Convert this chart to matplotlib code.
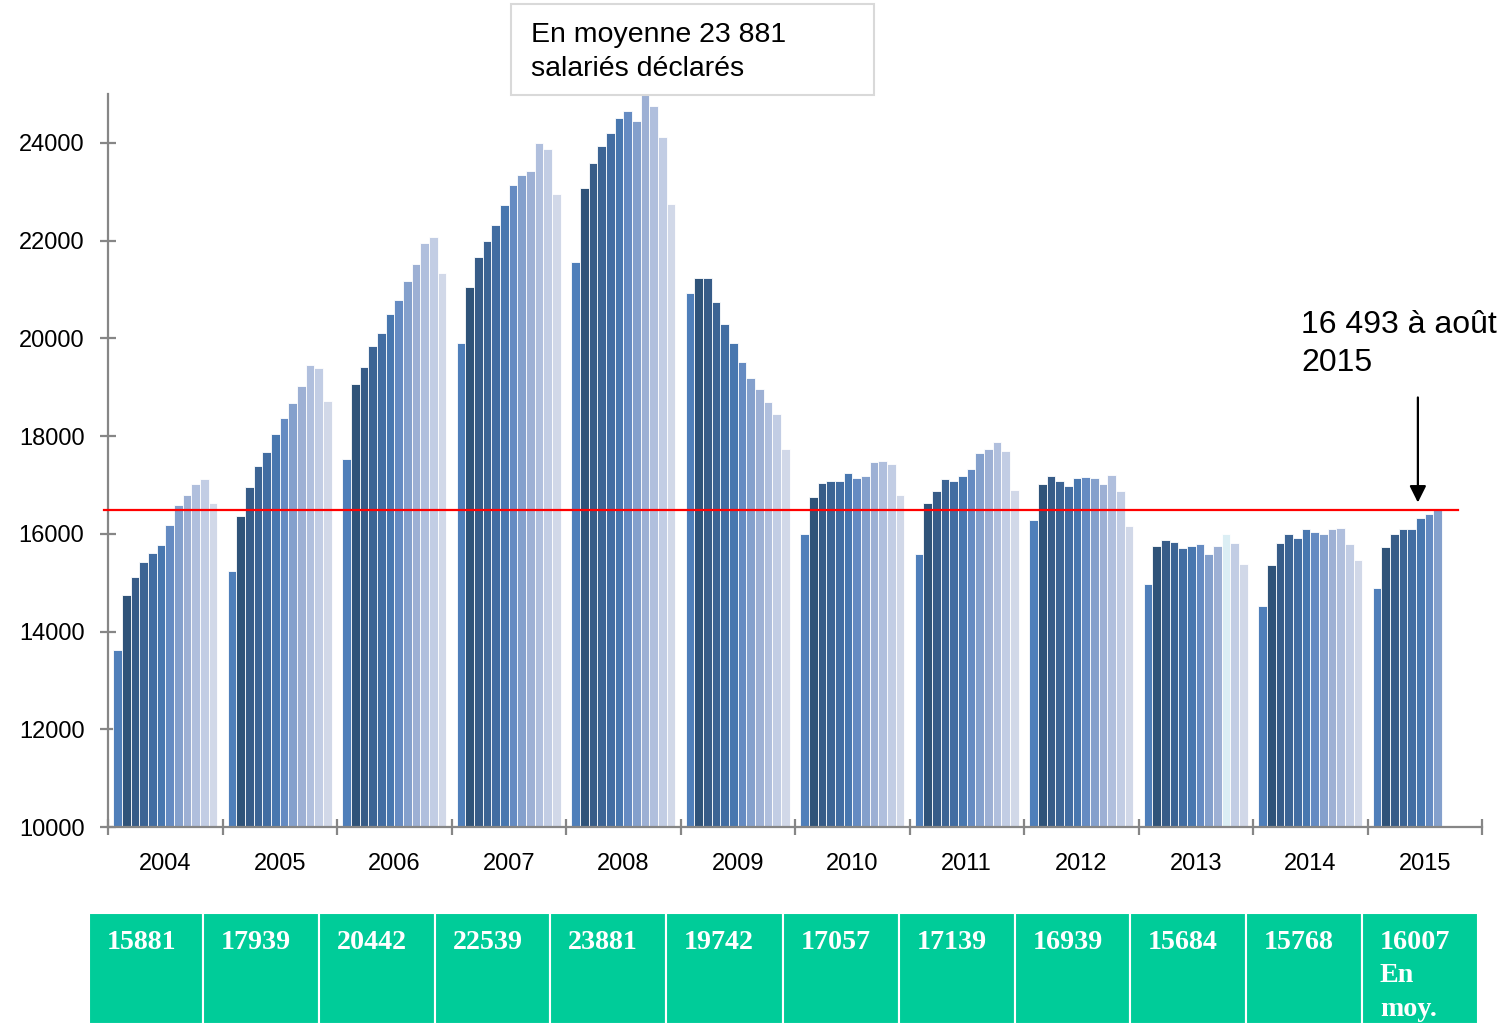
import matplotlib
matplotlib.use("Agg")
import matplotlib.pyplot as plt
from matplotlib.patches import Rectangle

plt.rcParams['font.family'] = ['Liberation Sans', 'DejaVu Sans']

years = ["2004", "2005", "2006", "2007", "2008", "2009",
         "2010", "2011", "2012", "2013", "2014", "2015"]

v2004 = [13630, 14750, 15110, 15420, 15600, 15780, 16180, 16580, 16790, 17010, 17120, 16630]
v2005 = [15240, 16360, 16960, 17380, 17670, 18050, 18360, 18680, 19030, 19450, 19390, 18720]
v2006 = [17540, 19060, 19410, 19840, 20100, 20490, 20790, 21170, 21520, 21960, 22080, 21340]
v2007 = [19910, 21060, 21660, 21990, 22320, 22720, 23130, 23340, 23430, 24000, 23880, 22960]
v2008 = [21560, 23070, 23590, 23940, 24200, 24500, 24650, 24450, 24970, 24760, 24110, 22750]
v2009 = [20930, 21240, 21240, 20740, 20290, 19910, 19510, 19190, 18960, 18700, 18450, 17730]
v2010 = [15990, 16750, 17030, 17090, 17080, 17250, 17140, 17190, 17470, 17500, 17420, 16790]
v2011 = [15580, 16630, 16880, 17120, 17080, 17180, 17320, 17660, 17740, 17870, 17700, 16900]
v2012 = [16280, 17010, 17180, 17080, 16970, 17150, 17160, 17140, 17010, 17200, 16880, 16160]
v2013 = [14980, 15750, 15880, 15830, 15700, 15750, 15790, 15580, 15750, 16000, 15810, 15380]
v2014 = [14520, 15360, 15820, 16000, 15910, 16100, 16040, 15990, 16100, 16120, 15790, 15470]
v2015 = [14900, 15740, 16000, 16090, 16100, 16320, 16410, 16493]

monthly = [v2004, v2005, v2006, v2007, v2008, v2009,
           v2010, v2011, v2012, v2013, v2014, v2015]

annual_avg = ["15881", "17939", "20442", "22539", "23881", "19742",
              "17057", "17139", "16939", "15684", "15768", "16007\nEn\nmoy."]

reference_level = 16493
box_text = "En moyenne 23 881\nsalariés déclarés"
arrow_text = "16 493 à août\n2015"

month_colors = ["#4F7FBA", "#2F5379", "#375C88", "#3C6494", "#426DA2", "#4877AF",
                "#658BC2", "#84A0CC", "#9DB0D4", "#B0BFDD", "#C2CDE4", "#D1D8E8"]
special_color = "#DBEEF4"  # 2013, October

W, H = 1503, 1024
fig = plt.figure(figsize=(W / 100, H / 100), dpi=100)
ax = fig.add_axes([108 / W, (H - 827) / H, 1374 / W, (827 - 94) / H])

bw = 0.91 / 12
for i, vals in enumerate(monthly):
    xs = [i + 0.045 + (m + 0.5) * bw for m in range(len(vals))]
    cols = [month_colors[m] for m in range(len(vals))]
    if years[i] == "2013":
        cols[9] = special_color
    ax.bar(xs, [v - 10000 for v in vals], width=bw, bottom=10000,
           color=cols, edgecolor="white", linewidth=0.6, zorder=2)

ax.set_xlim(0, 12)
ax.set_ylim(10000, 25000)
ax.set_yticks(range(10000, 25001, 2000))
ax.set_xticks(range(0, 13))
ax.set_xticklabels([])
ax.set_xticks([i + 0.5 for i in range(12)], minor=True)
ax.set_xticklabels(years, minor=True)

for s in ["top", "right"]:
    ax.spines[s].set_visible(False)
for s in ["left", "bottom"]:
    ax.spines[s].set_color("#868686")
    ax.spines[s].set_linewidth(1.6)

ax.tick_params(axis="y", direction="inout", length=12, width=1.6, color="#868686",
               labelsize=17, pad=11)
ax.tick_params(axis="x", which="major", direction="inout", length=12, width=1.6,
               color="#868686")
ax.tick_params(axis="x", which="minor", length=0, labelsize=17, pad=18.5)

# reference line
ax.plot([-0.035, 11.79], [reference_level, reference_level], color="#FF0000",
        lw=1.6, clip_on=False, zorder=3)

# arrow
ax.annotate("", xy=(11.44, 16640), xytext=(11.44, 18790),
            arrowprops=dict(arrowstyle="-|>", color="black", lw=1.6,
                            mutation_scale=25, shrinkA=0, shrinkB=0),
            annotation_clip=False)

fig.text(1301 / W, 1 - 310 / H, arrow_text, fontsize=23, va="top", ha="left",
         linespacing=1.33)

# top box
fig.patches.append(Rectangle((511 / W, 1 - 95 / H), 363 / W, 91 / H,
                             transform=fig.transFigure, facecolor="white",
                             edgecolor="#D9D9D9", lw=1.5, zorder=5))
fig.text(531 / W, 1 - 22 / H, box_text, fontsize=20.5, va="top", ha="left",
         linespacing=1.4, zorder=6)

# green table
edges = [89, 203, 319, 435, 550, 666, 783, 899, 1015, 1130, 1246, 1362, 1478]
for i, txt in enumerate(annual_avg):
    x0, x1 = edges[i], edges[i + 1]
    fig.patches.append(Rectangle((x0 / W, 0), (x1 - x0) / W, (H - 913) / H,
                                 transform=fig.transFigure, facecolor="#00CC99",
                                 edgecolor="white", lw=1.5))
    fig.text((x0 + 18) / W, 1 - 930 / H, txt, fontsize=20.2, fontweight="bold",
             family=["Liberation Serif", "DejaVu Serif"], color="white",
             va="top", ha="left", linespacing=1.44)

fig.savefig("out.png", dpi=100)
